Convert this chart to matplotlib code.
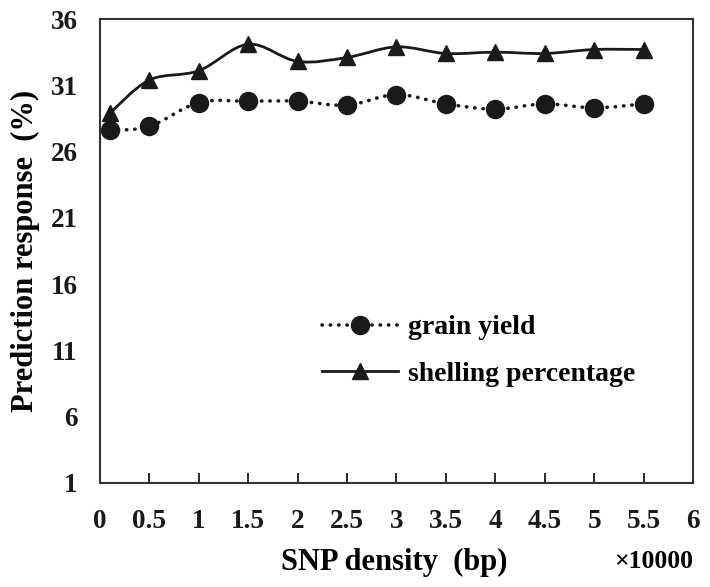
import matplotlib
matplotlib.use("Agg")
import matplotlib.pyplot as plt
from matplotlib.path import Path
from matplotlib.patches import PathPatch
from matplotlib.lines import Line2D
import numpy as np

plt.rcParams['font.family'] = ['Liberation Serif', 'DejaVu Serif']
plt.rcParams['font.weight'] = 'bold'

# data
snp_density = [0.1, 0.5, 1, 1.5, 2, 2.5, 3, 3.5, 4, 4.5, 5, 5.5]
grain_yield = [27.6, 27.9, 29.7, 29.8, 29.8, 29.5, 30.3, 29.6, 29.2, 29.6, 29.3, 29.6]
shelling = [28.9, 31.4, 32.1, 34.1, 32.8, 33.1, 33.9, 33.4, 33.5, 33.4, 33.7, 33.7]
xticks = [0, 0.5, 1, 1.5, 2, 2.5, 3, 3.5, 4, 4.5, 5, 5.5, 6]
yticks = [1, 6, 11, 16, 21, 26, 31, 36]


def smooth_path(x, y):
    # excel-like smoothed line, bezier through the data points
    p = np.column_stack([x, y]).astype(float)
    n = len(p)
    verts = [p[0]]
    codes = [Path.MOVETO]
    for i in range(n - 1):
        p0 = p[i - 1] if i > 0 else p[i]
        p1 = p[i]
        p2 = p[i + 1]
        p3 = p[i + 2] if i + 2 < n else p[i + 1]
        c1 = p1 + (p2 - p0) / 6.0
        c2 = p2 - (p3 - p1) / 6.0
        verts += [c1, c2, p2]
        codes += [Path.CURVE4] * 3
    return Path(verts, codes)


fig = plt.figure(figsize=(7.1, 5.87), dpi=100)
ax = fig.add_axes([0.1408, 0.1772, 0.8352, 0.7904])

dotted = (0, (0.1, 2.2))
ax.add_patch(PathPatch(smooth_path(snp_density, grain_yield), fill=False,
                       edgecolor='#1a1a1a', lw=2.6, linestyle=dotted,
                       capstyle='round'))
ax.add_patch(PathPatch(smooth_path(snp_density, shelling), fill=False,
                       edgecolor='#1a1a1a', lw=2.0))
ax.plot(snp_density, grain_yield, 'o', color='#1a1a1a', ms=13, ls='none')
ax.plot(snp_density, shelling, '^', color='#1a1a1a', ms=12, ls='none')

ax.set_xlim(0, 6)
ax.set_ylim(1, 36)
ax.set_xticks(xticks)
ax.set_xticklabels([f'{t:g}' for t in xticks])
ax.set_yticks(yticks)
ax.tick_params(axis='x', direction='in', length=7, width=1.3, pad=19,
               labelsize=19.5, colors='#1a1a1a')
ax.tick_params(axis='y', length=0, pad=16, labelsize=19.5, colors='#1a1a1a')
for s in ax.spines.values():
    s.set_linewidth(1.5)
    s.set_color('#333333')

ax.set_ylabel('Prediction response  (%)', fontsize=22, fontweight='bold',
              labelpad=8)
fig.text(394 / 710, 1 - 562 / 587, 'SNP density  (bp)', fontsize=22,
         fontweight='bold', ha='center', va='center')
fig.text(693 / 710, 1 - 562 / 587, '×10000', fontsize=18.5,
         fontweight='bold', ha='right', va='center')

handles = [
    Line2D([], [], color='#1a1a1a', lw=2.6, ls=dotted,
           dash_capstyle='round', marker='o', ms=13),
    Line2D([], [], color='#1a1a1a', lw=2.0, marker='^', ms=12),
]
ax.legend(handles, ['grain yield', 'shelling percentage'], loc='upper left',
          bbox_to_anchor=(0.374, 0.362), frameon=False, fontsize=20,
          handlelength=2.73, handletextpad=0.36, labelspacing=0.75,
          numpoints=1, borderpad=0, borderaxespad=0)

fig.savefig('out.png', dpi=100)
